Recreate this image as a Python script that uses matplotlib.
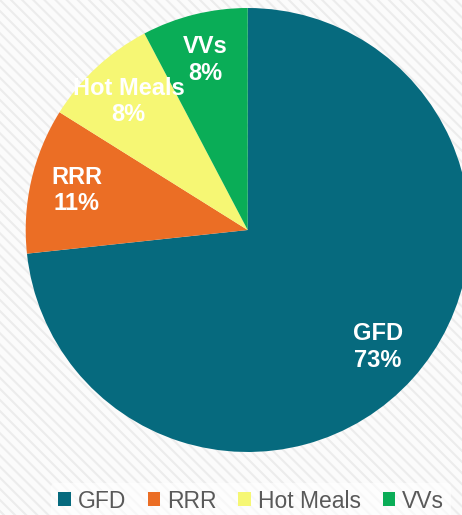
import matplotlib
matplotlib.use("Agg")
import matplotlib.pyplot as plt
from matplotlib.patches import Rectangle

categories = ["GFD", "RRR", "Hot Meals", "VVs"]
values = [73.3, 10.6, 8.4, 7.7]
pct_labels = ["73%", "11%", "8%", "8%"]
colors = ["#066A7E", "#EB6E25", "#F6F774", "#0AAD57"]

plt.rcParams['font.family'] = ['Liberation Sans', 'DejaVu Sans']
plt.rcParams['hatch.linewidth'] = 1.5

fig = plt.figure(figsize=(4.62, 5.15), dpi=100)
fig.patch.set_facecolor("white")

# hatched background
bg = fig.add_axes([0, 0, 1, 1], zorder=0)
bg.set_axis_off()
bg.add_patch(Rectangle((0, 0), 1, 1, transform=bg.transAxes, facecolor="#fbfbfb",
                       edgecolor="#ececec", hatch="\\" * 3, linewidth=0))

W, H = 462, 515
cx, cy, r = 247.7, 230, 222
ax = fig.add_axes([(cx - r) / W, (H - cy - r) / H, 2 * r / W, 2 * r / H], zorder=1)
ax.patch.set_alpha(0)

labels = [f"{c}\n{p}" for c, p in zip(categories, pct_labels)]
wedges, texts = ax.pie(values, colors=colors, startangle=90, counterclock=False,
                       labels=labels, labeldistance=0.79,
                       textprops=dict(color="white", fontsize=17, fontweight="bold",
                                      linespacing=1.2),
                       wedgeprops=dict(linewidth=0))
for t in texts:
    t.set_ha("center")
    t.set_va("center")
ax.set_xlim(-1, 1)
ax.set_ylim(-1, 1)
ax.set_aspect("equal")

leg = fig.legend(wedges, categories, loc="center", bbox_to_anchor=(251 / W, 1 - 501 / H),
                 ncol=4, frameon=True, fontsize=16.5, handlelength=0.55, handleheight=0.55,
                 handletextpad=0.3, columnspacing=0.95, borderpad=0.3, labelcolor="#595959")
leg.get_frame().set_facecolor("white")
leg.get_frame().set_alpha(0.6)
leg.get_frame().set_linewidth(0)

fig.savefig("out.png", dpi=100)
